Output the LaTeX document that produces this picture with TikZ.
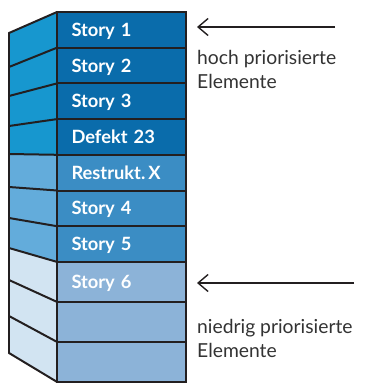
\documentclass[tikz,border=0pt]{standalone}
\usepackage{fontspec}
\setmainfont{Lato}
\usetikzlibrary{positioning,arrows.meta,backgrounds}

\definecolor{ink}{HTML}{231F20}
\definecolor{noteink}{HTML}{333333}
\definecolor{frontA}{HTML}{0A6CAB}
\definecolor{frontB}{HTML}{3B8DC4}
\definecolor{frontC}{HTML}{8CB3D8}
\definecolor{sideA}{HTML}{1797CF}
\definecolor{sideB}{HTML}{63ACDB}
\definecolor{sideC}{HTML}{D2E4F2}

\tikzset{
  row/.style={draw=ink, line width=2pt, outer sep=0pt, text width=100pt,
    inner xsep=14.5pt, inner ysep=0pt, minimum height=35.7pt, align=left,
    text=white, font=\bfseries\fontsize{18.3}{20}\selectfont,
    text height=13pt, text depth=0pt},
  lowrow/.style={row, minimum height=40pt},
  edge/.style={draw=ink, line width=2pt, line cap=round},
  pointer/.style={draw=ink, line width=1.4pt, -{Straight Barb[length=10pt,width=17pt,line width=1.4pt]}},
  note/.style={text=noteink, align=left, inner sep=0pt,
    font=\fontsize{19.3}{24.5}\selectfont}
}

\begin{document}
\begin{tikzpicture}[x=1pt, y=-1pt]
    \useasboundingbox (0,0) rectangle (369,385);

    % front column
    \node[row, fill=frontA, anchor=north west] (r1) at (57,12) {Story 1};
    \node[row, fill=frontA, below=0pt of r1] (r2) {Story 2};
    \node[row, fill=frontA, below=0pt of r2] (r3) {Story 3};
    \node[row, fill=frontA, below=0pt of r3] (r4) {Defekt 23};
    \node[row, fill=frontB, below=0pt of r4] (r5) {Restrukt.\,X};
    \node[row, fill=frontB, below=0pt of r5] (r6) {Story 4};
    \node[row, fill=frontB, below=0pt of r6] (r7) {Story 5};
    \node[lowrow, fill=frontC, below=0pt of r7] (r8) {Story 6};
    \node[lowrow, fill=frontC, below=0pt of r8] (r9) {};
    \node[lowrow, fill=frontC, below=0pt of r9] (r10) {};

    % side face
    \foreach \y [count=\k from 0] in {33,67,96,126,154,187,218,248,280,316,353}
        \coordinate (l\k) at (9,\y);
    \begin{scope}[on background layer]
        \foreach \i/\c in {1/sideA,2/sideA,3/sideA,4/sideA,5/sideB,6/sideB,7/sideB,8/sideC,9/sideC,10/sideC} {
            \pgfmathtruncatemacro\j{\i-1}
            \fill[\c] (l\j) -- (r\i.north west) -- (r\i.south west) -- (l\i) -- cycle;
        }
    \end{scope}
    \draw[edge] (l0) -- (l10);
    \draw[edge] (l0) -- (r1.north west);
    \foreach \i in {1,...,10}
        \draw[edge] (l\i) -- (r\i.south west);

    % annotations
    \coordinate (hiStart) at (335,27);
    \coordinate (hiTip) at (197,27);
    \coordinate (loStart) at (354,283);
    \coordinate (loTip) at (197,283);
    \draw[pointer] (hiStart) -- (hiTip);
    \draw[pointer] (loStart) -- (loTip);
    \node[note, anchor=north west] (hiText) at (197,50) {hoch priorisierte\\Elemente};
    \node[note, anchor=north west] (loText) at (197,319) {niedrig priorisierte\\Elemente};
\end{tikzpicture}
\end{document}
